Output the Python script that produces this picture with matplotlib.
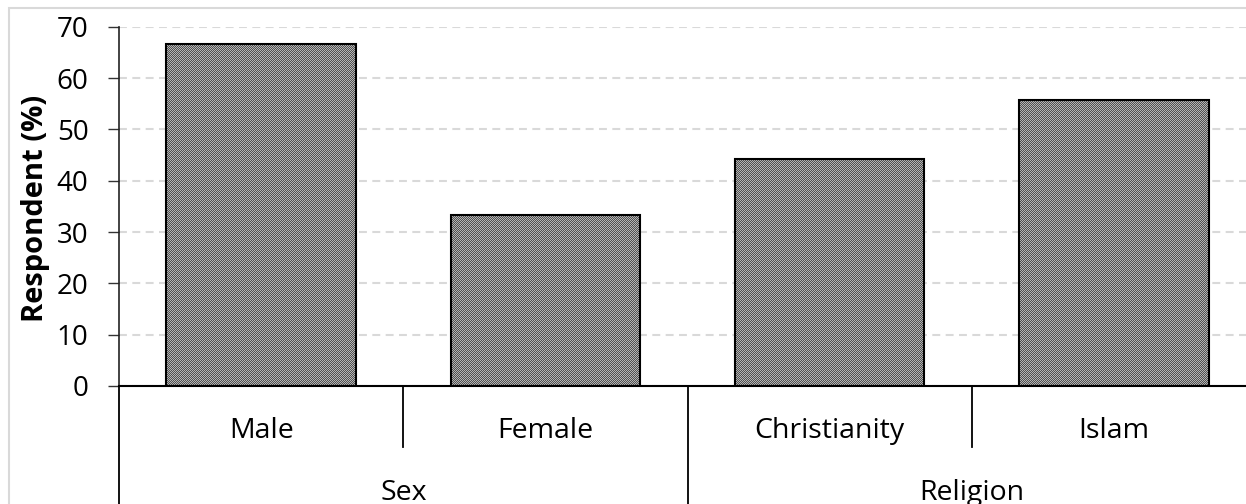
import numpy as np
import matplotlib
matplotlib.use("Agg")
import matplotlib.pyplot as plt
from matplotlib.colors import ListedColormap
from matplotlib.patches import Rectangle
from matplotlib.transforms import blended_transform_factory

plt.rcParams['font.family'] = ['Open Sans', 'DejaVu Sans']

# Data
categories = ["Male", "Female", "Christianity", "Islam"]
groups = ["Sex", "Religion"]
group_sizes = [2, 2]
values = [66.7, 33.3, 44.2, 55.8]
yticks = [0, 10, 20, 30, 40, 50, 60, 70]

W, H, DPI = 1246, 504, 100
fig = plt.figure(figsize=(W / DPI, H / DPI), dpi=DPI)
fig.patch.set_facecolor("white")

# Chart-area border (light gray)
fig.add_artist(Rectangle((8.5 / W, -0.1), 1.2, 1.1 - 8.5 / H,
                         transform=fig.transFigure, fill=False,
                         edgecolor="#d9d9d9", linewidth=1.5, zorder=-1))

# Plot area placed in pixel terms
left_px, right_px, top_px, zero_px = 119, 1256, 26.7, 386
pos = [left_px / W, (H - zero_px) / H,
       (right_px - left_px) / W, (zero_px - top_px) / H]
ax = fig.add_axes(pos, zorder=0)
ax.set_xlim(-0.5, len(categories) - 0.5)
ax.set_ylim(0, 70)

x = np.arange(len(categories))
bars = ax.bar(x, values, width=0.667, facecolor="#808080",
              edgecolor="none", zorder=3)

# Fine 1-pixel checkerboard texture, clipped to each bar
ii, jj = np.indices((H, W))
checker = ((ii + jj) % 2).astype(float)
texture_cmap = ListedColormap(["#505050", "#b4b4b4"])
for b in bars:
    im = fig.figimage(checker, xo=0, yo=0, cmap=texture_cmap, vmin=0, vmax=1,
                      origin="lower", zorder=1)
    im.set_clip_path(b)

# Gridlines
ax.set_yticks(yticks)
ax.yaxis.grid(True, color="#d9d9d9", linestyle=(0, (3.8, 2.6)), linewidth=1.5, zorder=0)
ax.set_axisbelow(True)

# Spines
for s in ["top", "right", "bottom"]:
    ax.spines[s].set_visible(False)
ax.spines["left"].set_color("#222222")
ax.spines["left"].set_linewidth(1.2)
ax.spines["left"].set_bounds(0, 70)

ax.tick_params(axis="y", direction="out", length=8, width=1.0, color="#333333",
               labelsize=20, pad=14, labelcolor="black")
ax.set_xticks([])
ax.set_ylabel("Respondent (%)", fontsize=21, fontweight="bold", va="center")
ax.yaxis.set_label_coords((36 - left_px) / (right_px - left_px), 0.495)

# Overlay axes for bar outlines and the zero line (drawn above the texture)
ov = fig.add_axes(pos, zorder=2)
ov.patch.set_visible(False)
ov.set_xlim(ax.get_xlim())
ov.set_ylim(ax.get_ylim())
ov.axis("off")
ov.bar(x, values, width=0.667, fill=False, edgecolor="black", linewidth=1.5)
ov.axhline(0, color="black", linewidth=1.5, clip_on=False)

# Multi-level category axis
trans = blended_transform_factory(ov.transData, ov.transAxes)
px = 1.0 / (zero_px - top_px)  # one pixel in axes-fraction units
for xi, name in zip(x, categories):
    ov.text(xi, -52 * px, name, transform=trans, ha="center", va="baseline",
            fontsize=20.5, clip_on=False)

start = 0
bounds = [-0.5]
for g, n in zip(groups, group_sizes):
    center = start + (n - 1) / 2
    ov.text(center, -114 * px, g, transform=trans, ha="center", va="baseline",
            fontsize=20.5, clip_on=False)
    # inner separators within the group
    for k in range(1, n):
        ov.plot([start + k - 0.5] * 2, [0, -61 * px], transform=trans,
                color="black", linewidth=1.3, clip_on=False)
    start += n
    bounds.append(start - 0.5)
for bx in bounds:
    ov.plot([bx, bx], [0, -130 * px], transform=trans, color="black",
            linewidth=1.3, clip_on=False)

fig.savefig("out.png", dpi=DPI)
